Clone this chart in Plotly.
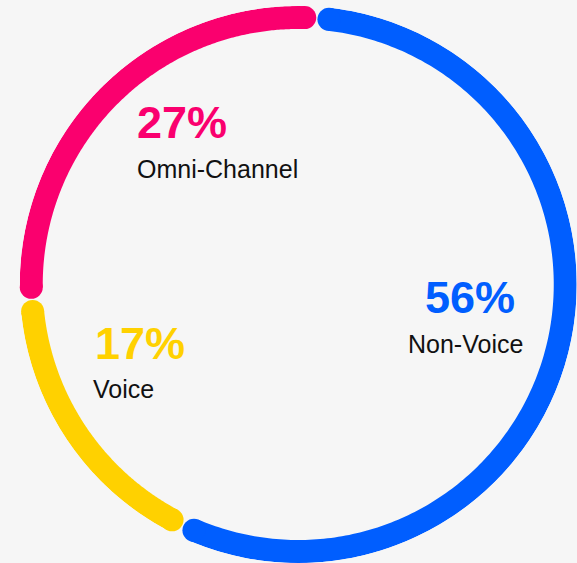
import numpy as np
import plotly.graph_objects as go

# Channel mix shares
categories = ["Non-Voice", "Voice", "Omni-Channel"]
shares = [56, 17, 27]
colors = ["#005EFF", "#FFD100", "#FA006E"]

# Label placement (paper coords) for the percentage and the category name
pct_pos = [(0.7324, 0.4716), (0.1605, 0.389), (0.2333, 0.782)]
name_pos = [(0.7035, 0.389), (0.1570, 0.309), (0.2333, 0.700)]

W, H = 577, 563
BG = "#F6F6F6"
RING_R = 0.9587      # ring centre-line radius on the radial axis
STROKE = 23          # ring thickness in px
START = 4            # degrees clockwise from 12 o'clock where the ring starts
PAD = 2.6            # degrees trimmed from each end (room for the round caps + gap)

fig = go.Figure()

total = sum(shares)
edges = np.concatenate([[0], np.cumsum(shares)]) / total * 360 + START

for i, (cat, col) in enumerate(zip(categories, colors)):
    a0, a1 = edges[i] + PAD, edges[i + 1] - PAD
    theta = np.linspace(a0, a1, 240)
    fig.add_trace(go.Scatterpolar(
        r=np.full_like(theta, RING_R), theta=theta, mode="lines",
        line=dict(color=col, width=STROKE), hoverinfo="skip",
        cliponaxis=False, showlegend=False, name=cat,
    ))
    # round caps at both ends of the arc
    fig.add_trace(go.Scatterpolar(
        r=[RING_R, RING_R], theta=[a0, a1], mode="markers",
        marker=dict(color=col, size=STROKE, line=dict(width=0)),
        hoverinfo="skip", cliponaxis=False, showlegend=False,
    ))

annotations = []
for cat, val, col, (px, py), (nx, ny) in zip(categories, shares, colors, pct_pos, name_pos):
    annotations.append(dict(
        x=px, y=py, xref="paper", yref="paper", xanchor="left", yanchor="middle",
        text=f"<b>{val}%</b>", showarrow=False,
        font=dict(family="Liberation Sans", size=45, color=col),
    ))
    annotations.append(dict(
        x=nx, y=ny, xref="paper", yref="paper", xanchor="left", yanchor="middle",
        text=cat, showarrow=False,
        font=dict(family="Liberation Sans", size=25, color="#111111"),
    ))

cx, cy_top, rad = 298.25, 284.5, 278.5
fig.update_layout(
    width=W, height=H,
    margin=dict(l=0, r=0, t=0, b=0),
    paper_bgcolor=BG, plot_bgcolor=BG,
    polar=dict(
        domain=dict(x=[(cx - rad) / W, (cx + rad) / W],
                    y=[(H - cy_top - rad) / H, (H - cy_top + rad) / H]),
        bgcolor="rgba(0,0,0,0)",
        radialaxis=dict(range=[0, 1], visible=False),
        angularaxis=dict(rotation=90, direction="clockwise", visible=False),
    ),
    annotations=annotations,
)

fig.write_html("out.html")
